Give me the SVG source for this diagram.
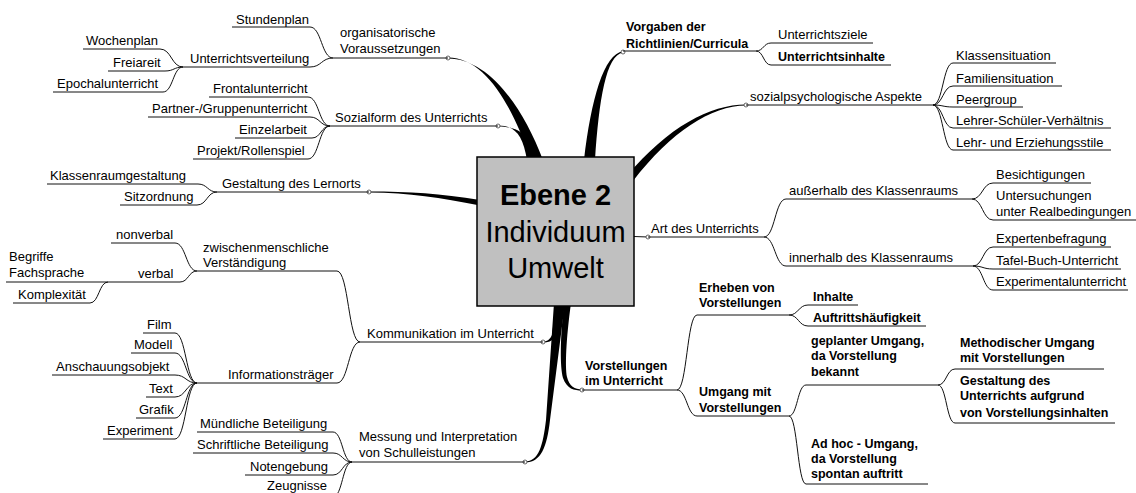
<svg xmlns="http://www.w3.org/2000/svg" width="1136" height="493" viewBox="0 0 1136 493">
<style>
  .t{font-family:"Liberation Sans",Arial,sans-serif;font-size:13px;fill:#000}
  .b{font-weight:bold;font-size:12.5px}
  .c{font-family:"Liberation Sans",Arial,sans-serif;font-size:29px;fill:#000;text-anchor:middle}
  .u{fill:none;stroke:#111;stroke-width:1}
  .k{fill:#000;stroke:none}
  .d{fill:#fff;stroke:#444;stroke-width:0.8}
</style>
<rect width="1136" height="493" fill="#fff"/>

<!-- connectors: tapered main branches and curved sub-branches -->
<g id="connectors">
  <!-- main branches from the central topic -->
  <path class="k" d="M448 57.5C485 57.5 512 105 531 160L543 160C522 104 487 58.5 448 58.5Z"/>
  <path class="k" d="M498 125.5C515 125.5 523 135 527 160L537 160C531 133 516 126.5 498 126.5Z"/>
  <path class="k" d="M623 51.5C604 53 591 100 584 160L595 160C599 100 606 55 623 52.5Z"/>
  <path class="k" d="M746 104.5C710 104.5 668 127 627 176L633 181C671 132 711 105.5 746 105.5Z"/>
  <path class="k" d="M369 191.5C410 191.5 440 193.5 480 200L480 205.5C440 198 410 192.5 369 192.5Z"/>
  <path class="u" d="M634 236.5L648 237" stroke-width="1.5"/>
  <path class="k" d="M543 341.5C548 341.5 550 339 552 335L556 303L564 303L554 338C552 341 548 342.5 543 342.5Z"/>
  <path class="k" d="M525 461.5C539 461.5 543 445 546 420L554 303L565 303L550 420C547 447 541 462.5 525 462.5Z"/>
  <path class="k" d="M564 303C560 340 560 366 563 378C567 389 574 390.5 582 390.5L582 389.5C575 389.5 569 386 567 377C565 366 566 340 571 303Z"/>

  <!-- left side sub-branches -->
  <path class="u" d="M310 27C321.5 27 321.5 58 333 58"/>
  <path class="u" d="M310 67C321.5 67 321.5 58 333 58"/>
  <path class="u" d="M160 49C171.5 49 171.5 67 183 67"/>
  <path class="u" d="M165 71C174 71 174 67 183 67"/>
  <path class="u" d="M163 92C173 92 173 67 183 67"/>
  <path class="u" d="M308 97C319 97 319 126 330 126"/>
  <path class="u" d="M310 117C320 117 320 126 330 126"/>
  <path class="u" d="M312 138C321 138 321 126 330 126"/>
  <path class="u" d="M308 159C319 159 319 126 330 126"/>
  <path class="u" d="M198 184C207.5 184 207.5 192 217 192"/>
  <path class="u" d="M197 205C207 205 207 192 217 192"/>
  <path class="u" d="M337 271C348.5 271 348.5 342 360 342"/>
  <path class="u" d="M337 383C348.5 383 348.5 342 360 342"/>
  <path class="u" d="M175 243C186 243 186 271 197 271"/>
  <path class="u" d="M180 282C188.5 282 188.5 271 197 271"/>
  <path class="u" d="M90 303C99 303 99 282 108 282"/>
  <path class="u" d="M175 333C186 333 186 383 197 383"/>
  <path class="u" d="M175 353C186 353 186 383 197 383"/>
  <path class="u" d="M175 375C186 375 186 383 197 383"/>
  <path class="u" d="M175 397C186 397 186 383 197 383"/>
  <path class="u" d="M175 418C186 418 186 383 197 383"/>
  <path class="u" d="M175 439C186 439 186 383 197 383"/>
  <path class="u" d="M333 432C342.5 432 342.5 462 352 462"/>
  <path class="u" d="M333 453C342.5 453 342.5 462 352 462"/>
  <path class="u" d="M333 475C342.5 475 342.5 462 352 462"/>
  <path class="u" d="M333 497C342.5 497 342.5 462 352 462"/>

  <!-- right side sub-branches -->
  <path class="u" d="M756 51C763.5 51 763.5 43 771 43"/>
  <path class="u" d="M756 51C763.5 51 763.5 65 771 65"/>
  <path class="u" d="M933 105C943 105 943 63 953 63"/>
  <path class="u" d="M933 105C943 105 943 86 953 86"/>
  <path class="u" d="M933 105C943 105 943 107 953 107"/>
  <path class="u" d="M933 105C943 105 943 128 953 128"/>
  <path class="u" d="M933 105C943 105 943 150 953 150"/>
  <path class="u" d="M764 237C775 237 775 199 786 199"/>
  <path class="u" d="M764 237C775 237 775 266 786 266"/>
  <path class="u" d="M972 199C982.5 199 982.5 183 993 183"/>
  <path class="u" d="M972 199C982.5 199 982.5 220 993 220"/>
  <path class="u" d="M973 266C983 266 983 247 993 247"/>
  <path class="u" d="M973 266C983 266 983 269 993 269"/>
  <path class="u" d="M973 266C983 266 983 290 993 290"/>
  <path class="u" d="M677 390C687 390 687 315 697 315"/>
  <path class="u" d="M677 390C687 390 687 416 697 416"/>
  <path class="u" d="M789 315C798.5 315 798.5 305 808 305"/>
  <path class="u" d="M789 315C798.5 315 798.5 326 808 326"/>
  <path class="u" d="M789 416C797.5 416 797.5 385 806 385"/>
  <path class="u" d="M789 416C797.5 416 797.5 484 806 484"/>
  <path class="u" d="M938 385C946.5 385 946.5 369 955 369"/>
  <path class="u" d="M938 385C946.5 385 946.5 423 955 423"/>

  <!-- attachment points -->
  <circle class="d" cx="448" cy="58" r="2"/>
  <circle class="d" cx="498" cy="126" r="2"/>
  <circle class="d" cx="369" cy="192" r="2"/>
  <circle class="d" cx="543" cy="342" r="2"/>
  <circle class="d" cx="525" cy="462" r="2"/>
  <circle class="d" cx="623" cy="52" r="2"/>
  <circle class="d" cx="746" cy="105" r="2"/>
  <circle class="d" cx="648" cy="237" r="2"/>
  <circle class="d" cx="582" cy="390" r="2"/>
</g>

<!-- central topic -->
<g id="center">
  <rect x="477" y="157" width="157" height="149" fill="#c0c0c0" stroke="#000" stroke-width="1.5"/>
  <text class="c" x="555.5" y="205" font-weight="bold">Ebene 2</text>
  <text class="c" x="555.5" y="242">Individuum</text>
  <text class="c" x="555.5" y="278">Umwelt</text>
</g>

<!-- left side -->
<g id="organisatorische">
  <path class="u" d="M333 58H448"/>
  <text class="t" x="340" y="37">organisatorische</text>
  <text class="t" x="340" y="53">Voraussetzungen</text>
</g>
<g id="stundenplan"><path class="u" d="M232 27H310"/><text class="t" x="236" y="23.5">Stundenplan</text></g>
<g id="unterrichtsverteilung"><path class="u" d="M183 67H310"/><text class="t" x="190" y="63">Unterrichtsverteilung</text></g>
<g id="wochenplan"><path class="u" d="M83 49H160"/><text class="t" x="86" y="45">Wochenplan</text></g>
<g id="freiareit"><path class="u" d="M108 71H165"/><text class="t" x="113" y="67">Freiareit</text></g>
<g id="epochalunterricht"><path class="u" d="M53 92H163"/><text class="t" x="57" y="88">Epochalunterricht</text></g>

<g id="sozialform"><path class="u" d="M330 126H498"/><text class="t" x="335" y="122">Sozialform des Unterrichts</text></g>
<g id="frontalunterricht"><path class="u" d="M209 97H308"/><text class="t" x="213" y="93">Frontalunterricht</text></g>
<g id="partner"><path class="u" d="M148 117H310"/><text class="t" x="152" y="113">Partner-/Gruppenunterricht</text></g>
<g id="einzelarbeit"><path class="u" d="M235 138H312"/><text class="t" x="239" y="134">Einzelarbeit</text></g>
<g id="projekt"><path class="u" d="M193 159H308"/><text class="t" x="197" y="155">Projekt/Rollenspiel</text></g>

<g id="lernort"><path class="u" d="M217 192H369"/><text class="t" x="222" y="188">Gestaltung des Lernorts</text></g>
<g id="klassenraumgestaltung"><path class="u" d="M47 184H198"/><text class="t" x="50" y="180">Klassenraumgestaltung</text></g>
<g id="sitzordnung"><path class="u" d="M120 205H197"/><text class="t" x="124" y="201">Sitzordnung</text></g>

<g id="kommunikation"><path class="u" d="M360 342H543"/><text class="t" x="367" y="338">Kommunikation im Unterricht</text></g>
<g id="verstaendigung">
  <path class="u" d="M197 271H337"/>
  <text class="t" x="203" y="252">zwischenmenschliche</text>
  <text class="t" x="203" y="267">Verständigung</text>
</g>
<g id="nonverbal"><path class="u" d="M111 243H175"/><text class="t" x="116" y="239">nonverbal</text></g>
<g id="verbal"><path class="u" d="M108 282H180"/><text class="t" x="138" y="278">verbal</text></g>
<g id="fachsprache">
  <path class="u" d="M6 282H108"/>
  <text class="t" x="9" y="261">Begriffe</text>
  <text class="t" x="9" y="277">Fachsprache</text>
</g>
<g id="komplexitaet"><path class="u" d="M13 303H90"/><text class="t" x="18" y="299">Komplexität</text></g>
<g id="informationstraeger"><path class="u" d="M197 383H337"/><text class="t" x="228" y="379">Informationsträger</text></g>
<g id="film"><path class="u" d="M143 333H175"/><text class="t" x="147" y="329">Film</text></g>
<g id="modell"><path class="u" d="M131 353H175"/><text class="t" x="134" y="349">Modell</text></g>
<g id="anschauungsobjekt"><path class="u" d="M52 375H175"/><text class="t" x="56" y="371">Anschauungsobjekt</text></g>
<g id="text"><path class="u" d="M146 397H175"/><text class="t" x="149" y="393">Text</text></g>
<g id="grafik"><path class="u" d="M136 418H175"/><text class="t" x="139" y="414">Grafik</text></g>
<g id="experiment"><path class="u" d="M103 439H175"/><text class="t" x="107" y="435">Experiment</text></g>

<g id="messung">
  <path class="u" d="M352 462H525"/>
  <text class="t" x="359" y="441">Messung und Interpretation</text>
  <text class="t" x="359" y="457">von Schulleistungen</text>
</g>
<g id="muendlich"><path class="u" d="M197 432H333"/><text class="t" x="200" y="428">Mündliche Beteiligung</text></g>
<g id="schriftlich"><path class="u" d="M193 453H333"/><text class="t" x="197" y="449">Schriftliche Beteiligung</text></g>
<g id="notengebung"><path class="u" d="M245 475H333"/><text class="t" x="250" y="471">Notengebung</text></g>
<g id="zeugnisse"><path class="u" d="M262 497H333"/><text class="t" x="267" y="489.5">Zeugnisse</text></g>

<!-- right side -->
<g id="vorgaben">
  <path class="u" d="M623 51H756"/>
  <text class="t b" x="626" y="31">Vorgaben der</text>
  <text class="t b" x="626" y="47.5">Richtlinien/Curricula</text>
</g>
<g id="unterrichtsziele"><path class="u" d="M771 43H873"/><text class="t" x="778" y="39">Unterrichtsziele</text></g>
<g id="unterrichtsinhalte"><path class="u" d="M771 65H891"/><text class="t b" x="778" y="61">Unterrichtsinhalte</text></g>

<g id="sozialpsychologisch"><path class="u" d="M746 105H933"/><text class="t" x="750" y="101">sozialpsychologische Aspekte</text></g>
<g id="klassensituation"><path class="u" d="M953 63H1056"/><text class="t" x="956" y="59.5">Klassensituation</text></g>
<g id="familiensituation"><path class="u" d="M953 86H1062"/><text class="t" x="956" y="82.5">Familiensituation</text></g>
<g id="peergroup"><path class="u" d="M953 107H1023"/><text class="t" x="956" y="103.5">Peergroup</text></g>
<g id="lehrer-schueler"><path class="u" d="M953 128H1111"/><text class="t" x="956" y="124.5">Lehrer-Schüler-Verhältnis</text></g>
<g id="erziehungsstile"><path class="u" d="M953 150H1111"/><text class="t" x="956" y="146.5">Lehr- und Erziehungsstile</text></g>

<g id="art"><path class="u" d="M648 237H764"/><text class="t" x="651" y="233">Art des Unterrichts</text></g>
<g id="ausserhalb"><path class="u" d="M786 199H972"/><text class="t" x="789" y="195">außerhalb des Klassenraums</text></g>
<g id="besichtigungen"><path class="u" d="M993 183H1091"/><text class="t" x="996" y="179">Besichtigungen</text></g>
<g id="untersuchungen">
  <path class="u" d="M993 220H1136"/>
  <text class="t" x="996" y="200">Untersuchungen</text>
  <text class="t" x="996" y="216">unter Realbedingungen</text>
</g>
<g id="innerhalb"><path class="u" d="M786 266H973"/><text class="t" x="789" y="262">innerhalb des Klassenraums</text></g>
<g id="expertenbefragung"><path class="u" d="M993 247H1111"/><text class="t" x="996" y="243">Expertenbefragung</text></g>
<g id="tafel-buch"><path class="u" d="M993 269H1121"/><text class="t" x="996" y="265">Tafel-Buch-Unterricht</text></g>
<g id="experimentalunterricht"><path class="u" d="M993 290H1128"/><text class="t" x="996" y="286">Experimentalunterricht</text></g>

<g id="vorstellungen">
  <path class="u" d="M582 390H677"/>
  <text class="t b" x="585" y="370">Vorstellungen</text>
  <text class="t b" x="585" y="385">im Unterricht</text>
</g>
<g id="erheben">
  <path class="u" d="M697 315H789"/>
  <text class="t b" x="699" y="292">Erheben von</text>
  <text class="t b" x="699" y="307">Vorstellungen</text>
</g>
<g id="inhalte"><path class="u" d="M808 305H858"/><text class="t b" x="813" y="301">Inhalte</text></g>
<g id="auftrittshaeufigkeit"><path class="u" d="M808 326H926"/><text class="t b" x="813" y="322">Auftrittshäufigkeit</text></g>
<g id="umgang">
  <path class="u" d="M697 416H789"/>
  <text class="t b" x="699" y="396">Umgang mit</text>
  <text class="t b" x="699" y="412">Vorstellungen</text>
</g>
<g id="geplant">
  <path class="u" d="M806 385H938"/>
  <text class="t b" x="811" y="345">geplanter Umgang,</text>
  <text class="t b" x="811" y="360">da Vorstellung</text>
  <text class="t b" x="811" y="376">bekannt</text>
</g>
<g id="methodisch">
  <path class="u" d="M955 369H1104"/>
  <text class="t b" x="960" y="347">Methodischer Umgang</text>
  <text class="t b" x="960" y="362">mit Vorstellungen</text>
</g>
<g id="gestaltung-unterricht">
  <path class="u" d="M955 423H1115"/>
  <text class="t b" x="960" y="385">Gestaltung des</text>
  <text class="t b" x="960" y="400">Unterrichts aufgrund</text>
  <text class="t b" x="960" y="417">von Vorstellungsinhalten</text>
</g>
<g id="adhoc">
  <path class="u" d="M806 484H928"/>
  <text class="t b" x="811" y="448">Ad hoc - Umgang,</text>
  <text class="t b" x="811" y="463">da Vorstellung</text>
  <text class="t b" x="811" y="478">spontan auftritt</text>
</g>
</svg>
